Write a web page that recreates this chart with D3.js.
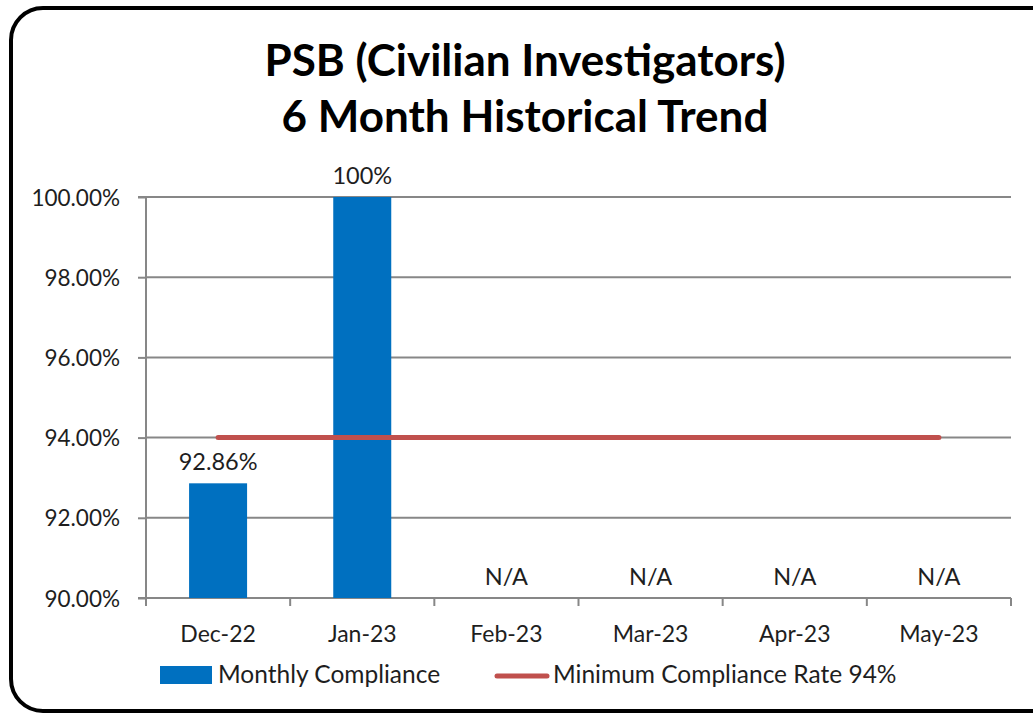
<!DOCTYPE html>
<html><head><meta charset="utf-8">
<script src="https://cdn.jsdelivr.net/npm/d3@7"></script>
<style>
html,body{margin:0;padding:0;background:#fff;}
svg{display:block;font-family:Lato,"Open Sans",sans-serif;}
</style></head>
<body>
<svg id="chart" width="1033" height="717"></svg>
<script>
const categories = ["Dec-22","Jan-23","Feb-23","Mar-23","Apr-23","May-23"];
const compliance = [92.86, 100, null, null, null, null];
const barLabels = ["92.86%","100%","N/A","N/A","N/A","N/A"];
const minimumRate = [94, 94, 94, 94, 94, 94];
const yTicks = [90, 92, 94, 96, 98, 100];
const titleLines = ["PSB (Civilian Investigators)", "6 Month Historical Trend"];
const legendLabels = ["Monthly Compliance", "Minimum Compliance Rate 94%"];

const svg = d3.select("#chart");
const m = {left:146, right:1011, top:197, bottom:598};
const textColor = "#1e1e1e";

// outer rounded border
svg.append("rect").attr("x",11).attr("y",8).attr("width",1060).attr("height",703)
  .attr("rx",32).attr("ry",32).attr("fill","#fff").attr("stroke","#000").attr("stroke-width",4);

// title
svg.append("g").selectAll("text").data(titleLines).join("text")
  .attr("x",525).attr("y",(d,i)=>76+i*56)
  .attr("text-anchor","middle").attr("font-weight","bold").attr("font-size",44)
  .attr("fill","#000").text(d=>d);

const x = d3.scaleBand().domain(categories).range([m.left,m.right]).paddingInner(0).paddingOuter(0);
const y = d3.scaleLinear().domain([90,100]).range([m.bottom,m.top]);
const grey = "#878787";

// gridlines
svg.append("g").selectAll("line").data(yTicks.filter(t=>t>90)).join("line")
  .attr("x1",m.left).attr("x2",m.right).attr("y1",d=>y(d)).attr("y2",d=>y(d))
  .attr("stroke",grey).attr("stroke-width",2);

// y axis
const yAxis = d3.axisLeft(y).tickValues(yTicks).tickFormat(d=>d.toFixed(2)+"%").tickSize(8).tickPadding(18);
const gy = svg.append("g").attr("transform",`translate(${m.left},0)`).call(yAxis);
gy.select(".domain").attr("stroke",grey).attr("stroke-width",2).attr("d",`M-8,${m.top}H0V${m.bottom}H-8`);
gy.selectAll(".tick line").attr("stroke",grey).attr("stroke-width",2);
gy.selectAll(".tick text").attr("font-size",22.5).attr("fill",textColor).attr("font-family","Lato,sans-serif").attr("dy","0.36em");

// x axis
const xAxis = d3.axisBottom(x).tickSize(0);
const gx = svg.append("g").attr("transform",`translate(0,${m.bottom})`).call(xAxis);
gx.select(".domain").attr("stroke",grey).attr("stroke-width",2).attr("d",`M${m.left},0H${m.right}`);
gx.selectAll(".tick text").attr("font-size",23).attr("fill",textColor).attr("font-family","Lato,sans-serif")
  .attr("y",44).attr("dy",0);
const bounds = categories.map(c=>x(c)).concat([m.right]);
gx.append("g").selectAll("line").data(bounds).join("line")
  .attr("x1",d=>d).attr("x2",d=>d).attr("y1",0).attr("y2",8)
  .attr("stroke",grey).attr("stroke-width",2);

// bars
const bw = 58;
const data = categories.map((c,i)=>({c, v:compliance[i], label:barLabels[i], m:minimumRate[i]}));
svg.append("g").selectAll("rect").data(data.filter(d=>d.v!=null)).join("rect")
  .attr("x",d=>x(d.c)+x.bandwidth()/2-bw/2).attr("width",bw)
  .attr("y",d=>y(d.v)).attr("height",d=>y(90)-y(d.v)).attr("fill","#0070C0");

// minimum line
const line = d3.line().x(d=>x(d.c)+x.bandwidth()/2).y(d=>y(d.m));
svg.append("path").datum(data).attr("d",line).attr("fill","none")
  .attr("stroke","#C0504D").attr("stroke-width",5).attr("stroke-linecap","round");

// data labels
svg.append("g").selectAll("text").data(data).join("text")
  .attr("x",d=>x(d.c)+x.bandwidth()/2)
  .attr("y",d=>y(d.v==null?90:d.v)-13)
  .attr("text-anchor","middle").attr("font-size",23.5).attr("fill",textColor).text(d=>d.label);

// legend
const lg = svg.append("g");
lg.append("rect").attr("x",160).attr("y",666).attr("width",52).attr("height",18).attr("fill","#0070C0");
lg.append("text").attr("x",218).attr("y",683).attr("font-size",24.5).attr("fill",textColor).text(legendLabels[0]);
lg.append("line").attr("x1",497).attr("x2",547).attr("y1",676).attr("y2",676)
  .attr("stroke","#C0504D").attr("stroke-width",5).attr("stroke-linecap","round");
lg.append("text").attr("x",553).attr("y",683).attr("font-size",24.5).attr("fill",textColor).text(legendLabels[1]);
</script>
</body></html>
